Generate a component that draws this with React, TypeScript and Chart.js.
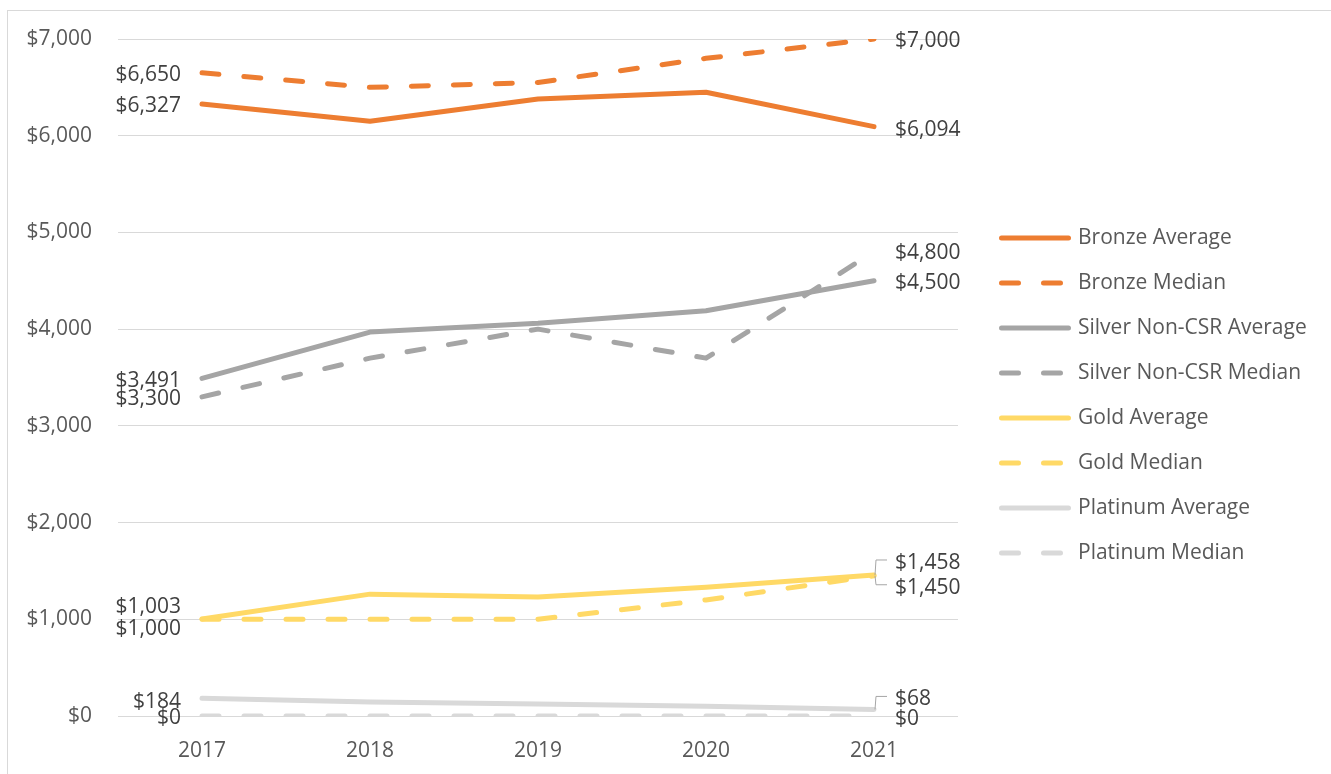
import React, { useEffect, useRef } from "react";
import { Chart, registerables } from "chart.js";

Chart.register(...registerables);

const years = ["2017", "2018", "2019", "2020", "2021"];
const bronzeAverage = [6327, 6150, 6380, 6450, 6094];
const bronzeMedian = [6650, 6500, 6550, 6800, 7000];
const silverAverage = [3491, 3970, 4060, 4190, 4500];
const silverMedian = [3300, 3700, 4000, 3700, 4800];
const goldAverage = [1003, 1260, 1230, 1330, 1458];
const goldMedian = [1000, 1000, 1000, 1200, 1450];
const platinumAverage = [184, 145, 125, 100, 68];
const platinumMedian = [0, 0, 0, 0, 0];
const seriesNames = [
  "Bronze Average",
  "Bronze Median",
  "Silver Non-CSR Average",
  "Silver Non-CSR Median",
  "Gold Average",
  "Gold Median",
  "Platinum Average",
  "Platinum Median",
];
const yMin = 0;
const yMax = 7000;
const yStep = 1000;

const FONT = "'Open Sans', 'Noto Sans', sans-serif";
const FS = 21;
const fmt = (v: number) => "$" + Math.round(v).toLocaleString("en-US");

const DASH = [17, 25];

const labelPlugin = {
  id: "endLabels",
  afterDatasetsDraw(chart: any) {
    const ctx = chart.ctx;
    ctx.save();
    ctx.font = `${FS}px ${FONT}`;
    ctx.fillStyle = "#404040";
    ctx.textBaseline = "middle";
    chart.data.datasets.forEach((ds: any, i: number) => {
      const meta = chart.getDatasetMeta(i);
      const first = meta.data[0];
      const last = meta.data[meta.data.length - 1];
      ctx.textAlign = "right";
      ctx.fillText(fmt(ds.data[0]), first.x - 21, first.y + (ds.startDy || 0));
      const lx = last.x + 21;
      const ly = last.y + (ds.endDy || 0);
      ctx.textAlign = "left";
      ctx.fillText(fmt(ds.data[ds.data.length - 1]), lx, ly);
      if (ds.endLeader) {
        ctx.save();
        ctx.strokeStyle = "#a6a6a6";
        ctx.lineWidth = 1;
        ctx.setLineDash([]);
        ctx.beginPath();
        ctx.moveTo(last.x + 1, last.y);
        ctx.lineTo(last.x + 2, ly - 3);
        ctx.lineTo(lx - 8, ly - 3);
        ctx.stroke();
        ctx.restore();
      }
    });
    ctx.restore();
  },
};

const legendPlugin = {
  id: "sideLegend",
  afterDraw(chart: any) {
    const ctx = chart.ctx;
    const area = chart.chartArea;
    const x0 = area.right + 41;
    const x1 = x0 + 72;
    ctx.save();
    ctx.font = `${FS}px ${FONT}`;
    ctx.textBaseline = "middle";
    ctx.textAlign = "left";
    chart.data.datasets.forEach((ds: any, i: number) => {
      const y = area.top + 199 + i * 45;
      ctx.strokeStyle = ds.borderColor;
      ctx.lineWidth = ds.borderWidth;
      ctx.lineCap = "round";
      ctx.setLineDash(ds.borderDash || []);
      ctx.beginPath();
      ctx.moveTo(x0 + 2.5, y);
      ctx.lineTo(x1 - 2.5, y);
      ctx.stroke();
      ctx.setLineDash([]);
      ctx.fillStyle = "#595959";
      ctx.fillText(ds.label, x1 + 7, y);
    });
    ctx.restore();
  },
};

export default function App() {
  const ref = useRef<HTMLCanvasElement | null>(null);

  useEffect(() => {
    if (!ref.current) return;
    const colors = ["#ED7D31", "#ED7D31", "#A5A5A5", "#A5A5A5", "#FFD966", "#FFD966", "#D9D9D9", "#D9D9D9"];
    const values = [
      bronzeAverage,
      bronzeMedian,
      silverAverage,
      silverMedian,
      goldAverage,
      goldMedian,
      platinumAverage,
      platinumMedian,
    ];
    const startDy = [2, 2, 3, 2, -12, 10, 4, 2];
    const endDy = [3, 2, 2, 1, -12, 12, -10, 3];
    const endLeader = [false, false, false, false, true, true, true, false];
    const datasets = values.map((d, i) => ({
      label: seriesNames[i],
      data: d,
      borderColor: colors[i],
      backgroundColor: colors[i],
      borderWidth: 5,
      borderDash: i % 2 === 1 ? DASH : [],
      borderCapStyle: "round",
      borderJoinStyle: "round",
      pointRadius: 0,
      pointHoverRadius: 0,
      tension: 0,
      fill: false,
      startDy: startDy[i],
      endDy: endDy[i],
      endLeader: endLeader[i],
      order: 8 - i,
    }));

    const chart = new Chart(ref.current, {
      type: "line",
      data: { labels: years, datasets: datasets as any },
      options: {
        animation: false,
        responsive: false,
        devicePixelRatio: 1,
        layout: { padding: { top: 28, right: 373, left: 0, bottom: 0 } },
        plugins: {
          legend: { display: false },
          tooltip: { enabled: false },
        },
        scales: {
          x: {
            offset: true,
            grid: { display: false },
            border: { display: false },
            ticks: {
              font: { family: FONT, size: FS },
              color: "#595959",
              padding: 14,
            },
            afterFit: (s: any) => {
              s.height = 58;
              s.paddingLeft = 0;
              s.paddingRight = 0;
            },
          },
          y: {
            min: yMin,
            max: yMax,
            grid: { color: "#d9d9d9", lineWidth: 1, drawTicks: false },
            border: { display: false },
            ticks: {
              stepSize: yStep,
              font: { family: FONT, size: FS },
              color: "#595959",
              padding: 26,
              callback: (v: any) => fmt(Number(v)),
            },
            afterFit: (s: any) => {
              s.width = 110;
              s.paddingTop = 12;
              s.paddingBottom = 12;
            },
          },
        },
      },
      plugins: [labelPlugin, legendPlugin],
    });
    return () => chart.destroy();
  }, []);

  return (
    <div
      style={{
        position: "fixed",
        left: 7,
        top: 10,
        right: 0,
        bottom: 0,
        borderLeft: "1px solid #d9d9d9",
        borderTop: "1px solid #d9d9d9",
        background: "#fff",
      }}
    >
      <canvas ref={ref} width={1323} height={763} style={{ display: "block" }} />
    </div>
  );
}
